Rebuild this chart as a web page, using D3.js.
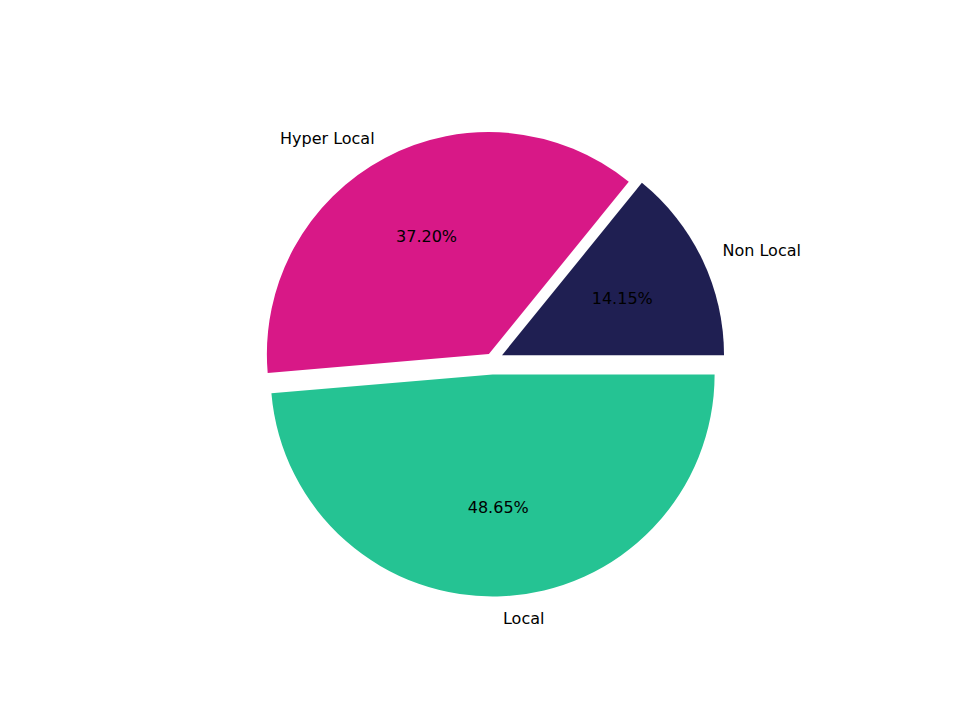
<!DOCTYPE html>
<html>
<head>
<meta charset="utf-8">
<script src="https://cdn.jsdelivr.net/npm/d3@7"></script>
<style>
  body { margin: 0; background: #fff; }
  text { font-family: "DejaVu Sans", sans-serif; font-size: 16px; fill: #000; }
</style>
</head>
<body>
<div id="chart"></div>
<script>
// slice data (matplotlib-style: starts at 3 o'clock, counterclockwise)
const labels = ['Non Local', 'Hyper Local', 'Local'];
const shares = [14.15, 37.20, 48.65];
const colors = ['#1f1f52', '#d81887', '#25c393'];
const explode = [0.05, 0.03, 0.065];

const width = 960, height = 720;
const cx = 492, cy = 360, radius = 222;

const svg = d3.select('#chart').append('svg')
    .attr('width', width)
    .attr('height', height);

const g = svg.append('g')
    .attr('transform', 'translate(' + cx + ',' + cy + ')');

// counterclockwise from east
const pie = d3.pie().sort(null)
    .startAngle(Math.PI / 2)
    .endAngle(Math.PI / 2 - 2 * Math.PI);

const arcs = pie(shares);
const arc = d3.arc().innerRadius(0).outerRadius(radius);

function polar(a, r) {
    return [Math.sin(a) * r, -Math.cos(a) * r];
}

arcs.forEach(function(d, i) {
    const mid = (d.startAngle + d.endAngle) / 2;
    const off = polar(mid, explode[i] * radius);
    const s = g.append('g')
        .attr('transform', 'translate(' + off[0] + ',' + off[1] + ')');

    s.append('path')
        .attr('d', arc(d))
        .attr('fill', colors[i]);

    const lp = polar(mid, radius * 1.1);
    s.append('text')
        .attr('x', lp[0])
        .attr('y', lp[1])
        .attr('dy', '0.35em')
        .attr('text-anchor', lp[0] >= 0 ? 'start' : 'end')
        .text(labels[i]);

    const pp = polar(mid, radius * 0.6);
    s.append('text')
        .attr('x', pp[0])
        .attr('y', pp[1])
        .attr('dy', '0.35em')
        .attr('text-anchor', 'middle')
        .text(shares[i].toFixed(2) + '%');
});
</script>
</body>
</html>
